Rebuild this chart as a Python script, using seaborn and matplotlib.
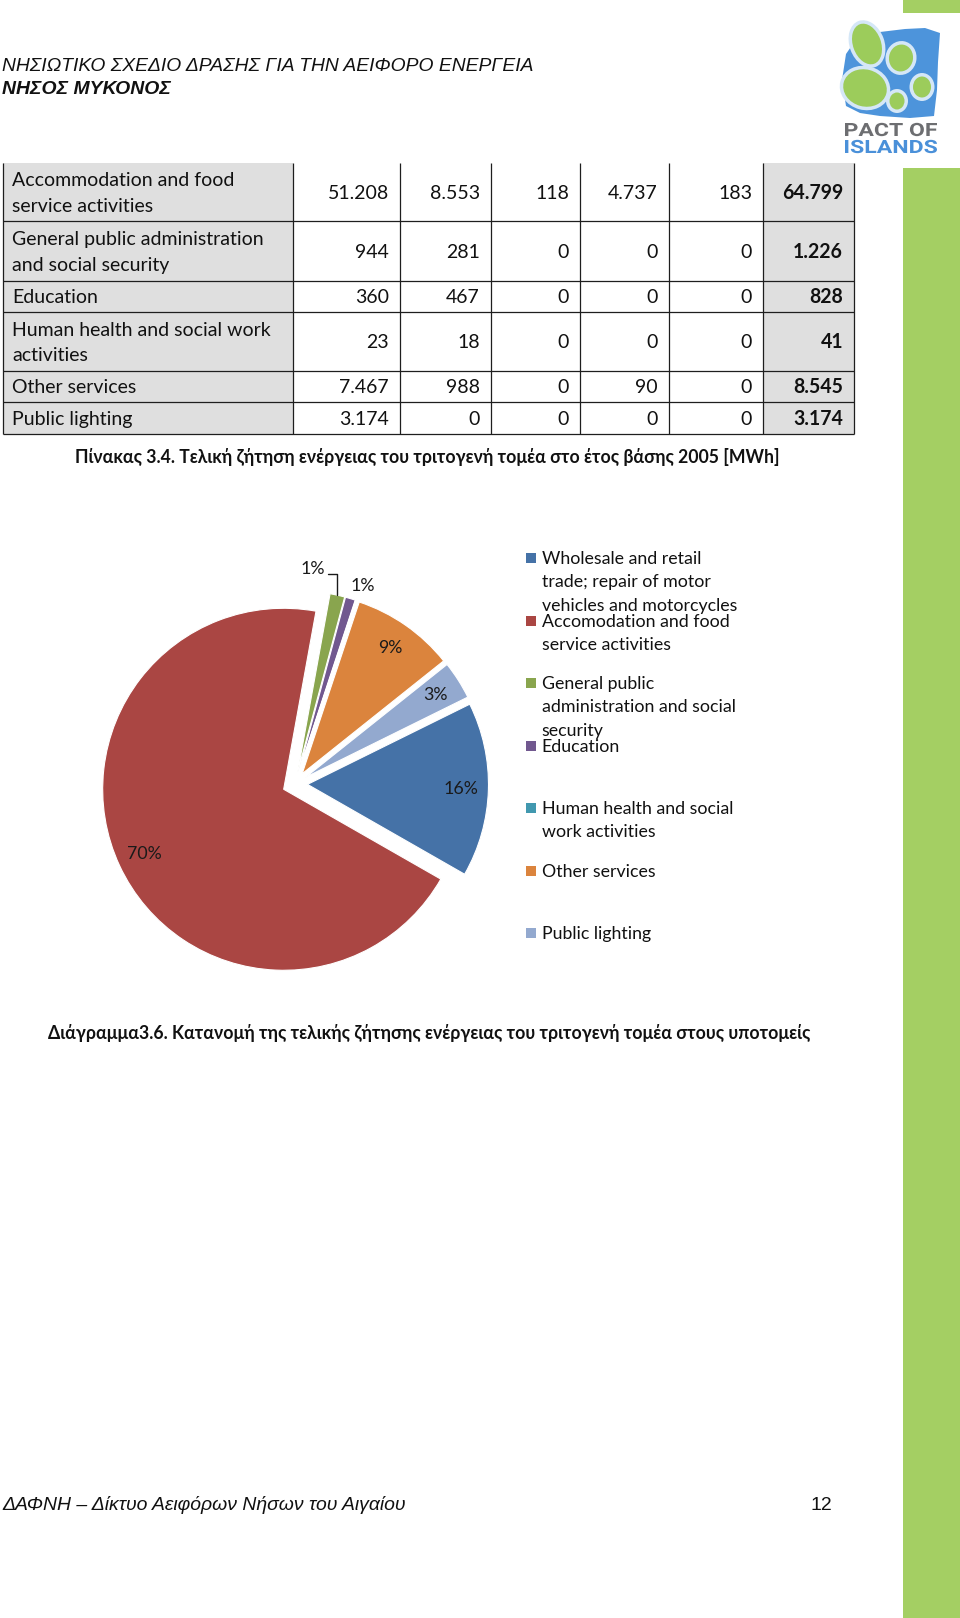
import numpy as np
import matplotlib
matplotlib.use("Agg")
import matplotlib.pyplot as plt
from matplotlib.patches import Rectangle, Polygon, Ellipse, PathPatch
from matplotlib.textpath import TextPath
from matplotlib.font_manager import FontProperties
from matplotlib.transforms import Affine2D
import seaborn as sns

# ------------------------------------------------------------------ data
header_line1 = "ΝΗΣΙΩΤΙΚΟ ΣΧΕΔΙΟ ΔΡΑΣΗΣ ΓΙΑ ΤΗΝ ΑΕΙΦΟΡΟ ΕΝΕΡΓΕΙΑ"
header_line2 = "ΝΗΣΟΣ ΜΥΚΟΝΟΣ"
logo_line1 = "PACT OF"
logo_line2 = "ISLANDS"

table_rows = ["Accommodation and food\nservice activities",
              "General public administration\nand social security",
              "Education",
              "Human health and social work\nactivities",
              "Other services",
              "Public lighting"]
col1 = [51208, 944, 360, 23, 7467, 3174]
col2 = [8553, 281, 467, 18, 988, 0]
col3 = [118, 0, 0, 0, 0, 0]
col4 = [4737, 0, 0, 0, 90, 0]
col5 = [183, 0, 0, 0, 0, 0]
totals = [64799, 1226, 828, 41, 8545, 3174]
table_caption = "Πίνακας 3.4. Τελική ζήτηση ενέργειας του τριτογενή τομέα στο έτος βάσης 2005 [MWh]"

pie_labels = ["Wholesale and retail\ntrade; repair of motor\nvehicles and motorcycles",
              "Accomodation and food\nservice activities",
              "General public\nadministration and social\nsecurity",
              "Education",
              "Human health and social\nwork activities",
              "Other services",
              "Public lighting"]
pie_values = [14500, 64799, 1226, 828, 41, 8545, 3174]
pie_colors = ["#4572A7", "#AA4643", "#89A54E", "#71588F", "#4198AF", "#DB843D", "#93A9CF"]
chart_caption = "Διάγραμμα3.6. Κατανομή της τελικής ζήτησης ενέργειας του τριτογενή τομέα στους υποτομείς"

footer_text = "ΔΑΦΝΗ – Δίκτυο Αειφόρων Νήσων του Αιγαίου"
page_number = "12"

# ------------------------------------------------------------------ setup
sns.set_theme(style="white")
plt.rcParams["font.family"] = ["Lato", "Noto Sans", "DejaVu Sans"]
palette = sns.color_palette(pie_colors)

W, H = 960, 1618
fig = plt.figure(figsize=(W / 100, H / 100), dpi=100)
fig.patch.set_facecolor("white")
ax = fig.add_axes([0, 0, 1, 1])
ax.set_xlim(0, W)
ax.set_ylim(H, 0)
ax.axis("off")
renderer = fig.canvas.get_renderer()

CALIBRI = ["Lato", "Noto Sans", "DejaVu Sans"]
ARIAL = ["Liberation Sans", "DejaVu Sans"]


def fit(s, target, **kw):
    t = ax.text(0, 0, s, fontsize=20, **kw)
    w = t.get_window_extent(renderer=renderer).width
    t.remove()
    return 20.0 * target / w


def cap_px(size_pt):
    return 0.716 * size_pt * 100 / 72


def fmt(v):
    return f"{v:,}".replace(",", ".")


def path_text(s, cx, base, width, cap, color, fp):
    tp = TextPath((0, 0), s, size=100, prop=fp)
    ext = tp.get_extents()
    capref = TextPath((0, 0), "H", size=100, prop=fp).get_extents().height
    tr = (Affine2D().translate(-ext.x0 - ext.width / 2, 0)
          .scale(width / ext.width, -cap / capref).translate(cx, base)) + ax.transData
    ax.add_patch(PathPatch(tp, transform=tr, color=color, lw=0, zorder=6))

# ------------------------------------------------------------------ side bar + logo
ax.add_patch(Rectangle((903, 0), W - 903, H, color="#a4cf63", lw=0, zorder=1))
ax.add_patch(Rectangle((903, 13), W - 903, 155, color="white", lw=0, zorder=2))

blue_pts = [(846, 54), (857, 38), (880, 32), (905, 29), (925, 28), (940, 33), (938, 62),
            (937, 90), (934, 116), (910, 118), (880, 116), (860, 113), (846, 106), (842, 80)]
ax.add_patch(Polygon(blue_pts, closed=True, color="#4d94db", lw=0, zorder=3))
islands = [((867, 44), 28, 42, -20), ((901, 58), 24, 27, 10), ((865, 88), 44, 37, 15),
           ((922, 87), 18, 21, 0), ((897, 101), 15, 17, 0)]
for (cx_, cy_), w_, h_, a_ in islands:
    ax.add_patch(Ellipse((cx_, cy_), w_ + 7, h_ + 7, angle=a_, color="#d5e7f7", lw=0, zorder=4))
    ax.add_patch(Ellipse((cx_, cy_), w_, h_, angle=a_, color="#9ccc5b", lw=0, zorder=5))
fp_logo = FontProperties(family=["Roboto", "DejaVu Sans"], weight="bold")
path_text(logo_line1, 891, 136, 92, 13, "#6d6e71", fp_logo)
path_text(logo_line2, 891, 153, 92, 13, "#4a90d9", fp_logo)

# ------------------------------------------------------------------ header / footer
s_h1 = fit(header_line1, 532, family=ARIAL, style="italic")
ax.text(2, 64 + cap_px(s_h1) / 2, header_line1, fontsize=s_h1, family=ARIAL, style="italic",
        color="#111111", va="baseline")
s_h2 = fit(header_line2, 168, family=ARIAL, style="italic", weight="bold")
ax.text(2, 87 + cap_px(s_h2) / 2, header_line2, fontsize=s_h2, family=ARIAL, style="italic",
        weight="bold", color="#111111", va="baseline")

s_f = fit(footer_text, 403, family=ARIAL, style="italic")
ax.text(2, 1503 + cap_px(s_f) / 2, footer_text, fontsize=s_f, family=ARIAL, style="italic",
        color="#111111", va="baseline")
ax.text(832, 1503 + cap_px(s_f) / 2, page_number, fontsize=s_f, family=ARIAL,
        color="#111111", va="baseline", ha="right")

# ------------------------------------------------------------------ table
yb = [163, 221, 281, 312, 371, 402, 434]
xb = [3, 293, 400, 491, 580, 669, 763, 854]
gray = "#dfdfdf"
ax.add_patch(Rectangle((xb[0], yb[0]), xb[1] - xb[0], yb[-1] - yb[0], color=gray, lw=0, zorder=1))
ax.add_patch(Rectangle((xb[6], yb[0]), xb[7] - xb[6], yb[-1] - yb[0], color=gray, lw=0, zorder=1))
for y in yb[1:]:
    ax.plot([xb[0], xb[-1]], [y, y], color="#1e1e1e", lw=0.9, zorder=3, solid_capstyle="butt")
for x in xb:
    ax.plot([x, x], [yb[0], yb[-1]], color="#1e1e1e", lw=0.9, zorder=3, solid_capstyle="butt")

s_t = fit("Accommodation and food", 222, family=CALIBRI)
cap_t = cap_px(s_t)
line_gap = 25.6
cols = [col1, col2, col3, col4, col5]
for i, lab in enumerate(table_rows):
    c = (yb[i] + yb[i + 1]) / 2
    lines = lab.split("\n")
    n = len(lines)
    for k, ln in enumerate(lines):
        yc = c + (k - (n - 1) / 2) * line_gap
        ax.text(12, yc + cap_t / 2, ln, fontsize=s_t, family=CALIBRI, color="#111111",
                va="baseline", zorder=4)
    for j, colv in enumerate(cols):
        ax.text(xb[j + 2] - 11, c + cap_t / 2, fmt(colv[i]), fontsize=s_t, family=CALIBRI,
                color="#111111", va="baseline", ha="right", zorder=4)
    ax.text(xb[7] - 11, c + cap_t / 2, fmt(totals[i]), fontsize=s_t, family=CALIBRI,
            weight="bold", color="#111111", va="baseline", ha="right", zorder=4)

s_c1 = fit(table_caption, 700, family=CALIBRI, weight="bold")
ax.text(427, 457 + cap_px(s_c1) / 2, table_caption, fontsize=s_c1, family=CALIBRI,
        weight="bold", color="#111111", va="baseline", ha="center")

s_c2 = fit(chart_caption, 759, family=CALIBRI, weight="bold")
ax.text(48, 1033 + cap_px(s_c2) / 2, chart_caption, fontsize=s_c2, family=CALIBRI,
        weight="bold", color="#111111", va="baseline", ha="left")

# ------------------------------------------------------------------ legend
s_l = fit("Wholesale and retail", 160, family=CALIBRI)
base0, step, lstep = 564, 62.5, 23.4
for i, lab in enumerate(pie_labels):
    b = base0 + i * step
    ax.add_patch(Rectangle((526, b - 11), 10, 10, color=palette[i], lw=0, zorder=4))
    for k, ln in enumerate(lab.split("\n")):
        ax.text(541.5, b + k * lstep, ln, fontsize=s_l, family=CALIBRI, color="#111111",
                va="baseline", zorder=4)

# ------------------------------------------------------------------ pie
R = 181.0
cx, cy = 295.0, 784.0
L = 1.35
S = 2 * L * R
ax2 = fig.add_axes([(cx - S / 2) / W, (H - (cy + S / 2)) / H, S / W, S / H])
wedges, texts, autotexts = ax2.pie(
    pie_values, colors=palette, startangle=26.3, counterclock=False,
    explode=[0.069] * len(pie_values), radius=1.0,
    autopct=lambda p: f"{p:.0f}%" if p >= 0.5 else "", pctdistance=0.85,
    wedgeprops=dict(edgecolor="white", linewidth=0.8),
    textprops=dict(fontsize=s_l, family=CALIBRI, color="#1a1a1a"))
ax2.set_xlim(-L, L)
ax2.set_ylim(-L, L)
ax2.set_aspect("equal")
ax2.axis("off")

# green (index 2) label with leader line
wg = wedges[2]
mid = np.deg2rad((wg.theta1 + wg.theta2) / 2)
ox = wg.center[0] + wg.r * np.cos(mid)
oy = wg.center[1] + wg.r * np.sin(mid)
ytop = oy + 0.117
ax2.plot([ox, ox, ox - 0.052], [oy, ytop, ytop], color="#1a1a1a", lw=1.0)
autotexts[2].set_position((ox - 0.068, ytop + 0.03))
autotexts[2].set_ha("right")

# purple (index 3) label outside
wp = wedges[3]
midp = np.deg2rad((wp.theta1 + wp.theta2) / 2 - 2.4)
autotexts[3].set_position((wp.center[0] + 1.09 * np.cos(midp), wp.center[1] + 1.09 * np.sin(midp)))

fig.savefig("out.png", dpi=100, facecolor="white")
